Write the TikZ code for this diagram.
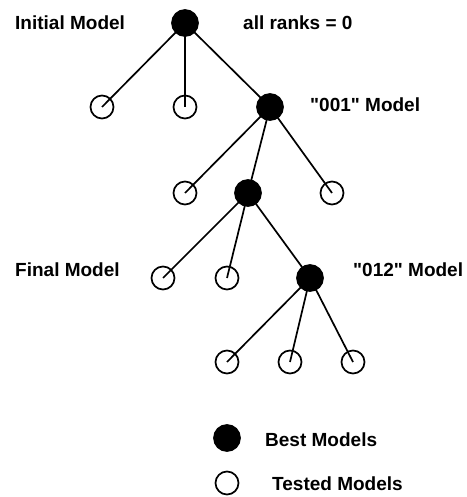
\documentclass[tikz,border=0pt]{standalone}
\usepackage{fontspec}
\setmainfont{Liberation Sans}
\usetikzlibrary{positioning}
\tikzset{
    mynodeb/.style = {circle, line width=1.7pt, draw=black, fill=black, minimum size=26pt, inner sep=0pt},
    mynodet/.style = {circle, line width=1.7pt, draw=black, minimum size=23pt, inner sep=0pt},
    mylabel/.style = {anchor=west, inner sep=0pt, font=\bfseries\fontsize{19}{21}\selectfont, text=black},
    edgen/.style = {-, line width=1.7pt, black},
}

\begin{document}
\begin{tikzpicture}[x=1pt,y=-1pt]
\useasboundingbox (0,0) rectangle (466,497);
% search tree
\node[mynodeb] at (185,  23) (r) {};
\node[mynodet] at (102, 107) (t11) {};
\node[mynodet] at (185, 107) (t12) {};
\node[mynodeb] at (270, 107) (b1) {};
\node[mynodet] at (185, 193) (t21) {};
\node[mynodeb] at (248, 193) (b2) {};
\node[mynodet] at (332, 193) (t22) {};
\node[mynodet] at (163, 278) (t31) {};
\node[mynodet] at (227, 278) (t32) {};
\node[mynodeb] at (310, 278) (b3) {};
\node[mynodet] at (227, 362) (t41) {};
\node[mynodet] at (290, 362) (t42) {};
\node[mynodet] at (353, 362) (t43) {};
\draw[edgen] (r.center) -- (t11.center);
\draw[edgen] (r.center) -- (t12.center);
\draw[edgen] (r.center) -- (b1.center);
\draw[edgen] (b1.center) -- (t21.center);
\draw[edgen] (b1.center) -- (b2.center);
\draw[edgen] (b1.center) -- (t22.center);
\draw[edgen] (b2.center) -- (t31.center);
\draw[edgen] (b2.center) -- (t32.center);
\draw[edgen] (b2.center) -- (b3.center);
\draw[edgen] (b3.center) -- (t41.center);
\draw[edgen] (b3.center) -- (t42.center);
\draw[edgen] (b3.center) -- (t43.center);
% labels
\node[mylabel] at ( 15,  23) (linit) {Initial Model};
\node[mylabel] at (243,  23) (lranks) {all ranks = 0};
\node[mylabel] at (310, 105) (l001) {\textquotedbl 001\textquotedbl{} Model};
\node[mylabel] at ( 15, 270) (lfinal) {Final Model};
\node[mylabel] at (353, 270) (l012) {\textquotedbl 012\textquotedbl{} Model};
% legend
\node[mynodeb] at (227, 438) (kbest) {};
\node[mynodet] at (227, 483) (ktest) {};
\node[mylabel] at (265, 440) (lbest) {Best Models};
\node[mylabel] at (272, 484) (ltest) {Tested Models};
\end{tikzpicture}
\end{document}
